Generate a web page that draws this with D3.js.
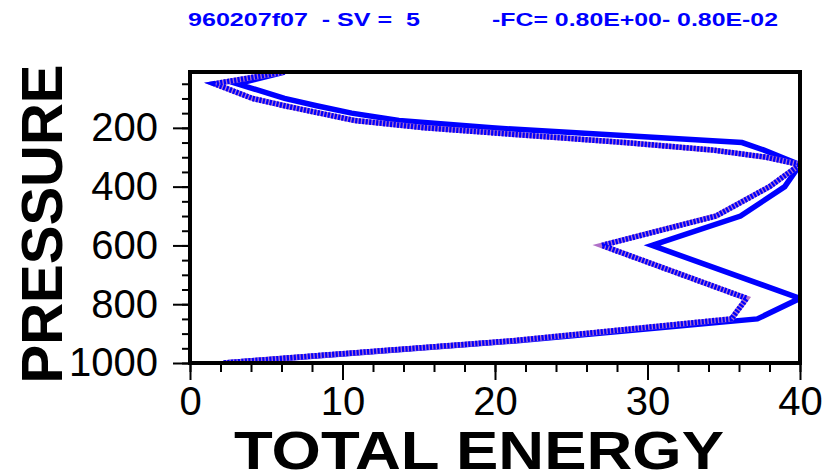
<!DOCTYPE html>
<html>
<head>
<meta charset="utf-8">
<script src="https://cdn.jsdelivr.net/npm/d3@7"></script>
<style>
  body { margin: 0; background: #fff; }
  text { font-family: "Liberation Sans", Arial, sans-serif; }
</style>
</head>
<body>
<div id="chart"></div>
<script>
// Pressure levels (hPa) shared by both profiles
const pressureLevels = [10, 50, 100, 125, 150, 175, 200, 250, 275, 300, 325, 400, 500, 600, 780, 850, 925, 975, 1000];
// Total energy, solid profile
const energySolid = [6.2, 3.1, 6.2, 8.3, 10.6, 13.7, 19.8, 36.2, 37.6, 38.8, 40.0, 39.0, 36.1, 30.3, 40.0, 37.2, 21.3, 8.5, 2.2];
// Total energy, dotted profile
const energyDotted = [6.2, 1.6, 4.1, 6.2, 8.5, 10.8, 15.4, 28.5, 34.2, 37.8, 40.0, 38.0, 34.5, 27.0, 36.5, 35.5, 21.0, 8.3, 2.2];

const energyTicks = [0, 10, 20, 30, 40];
const energyMinor = d3.range(0, 41, 2);
const pressureTicks = [200, 400, 600, 800, 1000];
const pressureMinor = d3.range(50, 1001, 50);

const titleLeft = "960207f07  - SV =  5";
const titleRight = "-FC= 0.80E+00- 0.80E-02";

const svg = d3.select("#chart").append("svg")
    .attr("width", 837)
    .attr("height", 475);

// Scales
const x = d3.scaleLinear().domain([0, 40]).range([190, 800]);
const y = d3.scaleLinear().domain([10, 1000]).range([72, 363]);

// Clip to the plot frame
svg.append("clipPath").attr("id", "plotClip")
  .append("rect")
    .attr("x", 190).attr("y", 72)
    .attr("width", 610).attr("height", 291);

const line = d3.line()
    .x(d => x(d[1]))
    .y(d => y(d[0]));

const solidData = pressureLevels.map((p, i) => [p, energySolid[i]]);
const dottedData = pressureLevels.map((p, i) => [p, energyDotted[i]]);

const plot = svg.append("g").attr("clip-path", "url(#plotClip)");

plot.append("path")
    .datum(solidData)
    .attr("d", line)
    .attr("fill", "none")
    .attr("stroke", "#0000ff")
    .attr("stroke-width", 5.5);

// dotted profile: purple underlay with short blue dashes on top
plot.append("path")
    .datum(dottedData)
    .attr("d", line)
    .attr("fill", "none")
    .attr("stroke", "#b070c8")
    .attr("stroke-width", 5.5);

plot.append("path")
    .datum(dottedData)
    .attr("d", line)
    .attr("fill", "none")
    .attr("stroke", "#0000ff")
    .attr("stroke-width", 5.5)
    .attr("stroke-dasharray", "2.2,1.3");

// Axes - minor ticks first
svg.append("g")
    .attr("transform", "translate(190,0)")
    .call(d3.axisLeft(y).tickValues(pressureMinor).tickSize(8).tickFormat(""))
    .call(g => g.select(".domain").remove())
    .call(g => g.selectAll("line").attr("stroke", "#000").attr("stroke-width", 2));

const yAxis = svg.append("g")
    .attr("transform", "translate(190,0)")
    .call(d3.axisLeft(y).tickValues(pressureTicks).tickSize(17).tickPadding(15).tickFormat(d3.format("d")))
    .call(g => g.select(".domain").remove());
yAxis.selectAll("line").attr("stroke", "#000").attr("stroke-width", 2);
yAxis.selectAll("text")
    .attr("font-size", 40)
    .attr("fill", "#000")
    .attr("font-family", "Liberation Sans, Arial, sans-serif");

svg.append("g")
    .attr("transform", "translate(0,363)")
    .call(d3.axisBottom(x).tickValues(energyMinor).tickSize(9).tickFormat(""))
    .call(g => g.select(".domain").remove())
    .call(g => g.selectAll("line").attr("stroke", "#000").attr("stroke-width", 2));

const xAxis = svg.append("g")
    .attr("transform", "translate(0,363)")
    .call(d3.axisBottom(x).tickValues(energyTicks).tickSize(17).tickPadding(7))
    .call(g => g.select(".domain").remove());
xAxis.selectAll("line").attr("stroke", "#000").attr("stroke-width", 2);
xAxis.selectAll("text")
    .attr("font-size", 40)
    .attr("fill", "#000")
    .attr("font-family", "Liberation Sans, Arial, sans-serif");

// Frame
svg.append("rect")
    .attr("x", 190).attr("y", 72)
    .attr("width", 610).attr("height", 291)
    .attr("fill", "none")
    .attr("stroke", "#000")
    .attr("stroke-width", 4);

// Axis titles
svg.append("text")
    .attr("x", 479).attr("y", 469)
    .attr("text-anchor", "middle")
    .attr("font-size", 54)
    .attr("font-weight", "bold")
    .attr("textLength", 490)
    .attr("lengthAdjust", "spacingAndGlyphs")
    .text("TOTAL ENERGY");

svg.append("text")
    .attr("transform", "translate(62,224) rotate(-90)")
    .attr("text-anchor", "middle")
    .attr("font-size", 58)
    .attr("font-weight", "bold")
    .text("PRESSURE");

// Title
svg.append("text")
    .attr("x", 188).attr("y", 26)
    .attr("font-size", 19)
    .attr("font-weight", "bold")
    .attr("fill", "#0000ff")
    .attr("textLength", 232)
    .attr("lengthAdjust", "spacingAndGlyphs")
    .style("white-space", "pre")
    .text(titleLeft);

svg.append("text")
    .attr("x", 492).attr("y", 26)
    .attr("font-size", 19)
    .attr("font-weight", "bold")
    .attr("fill", "#0000ff")
    .attr("textLength", 286)
    .attr("lengthAdjust", "spacingAndGlyphs")
    .style("white-space", "pre")
    .text(titleRight);
</script>
</body>
</html>
